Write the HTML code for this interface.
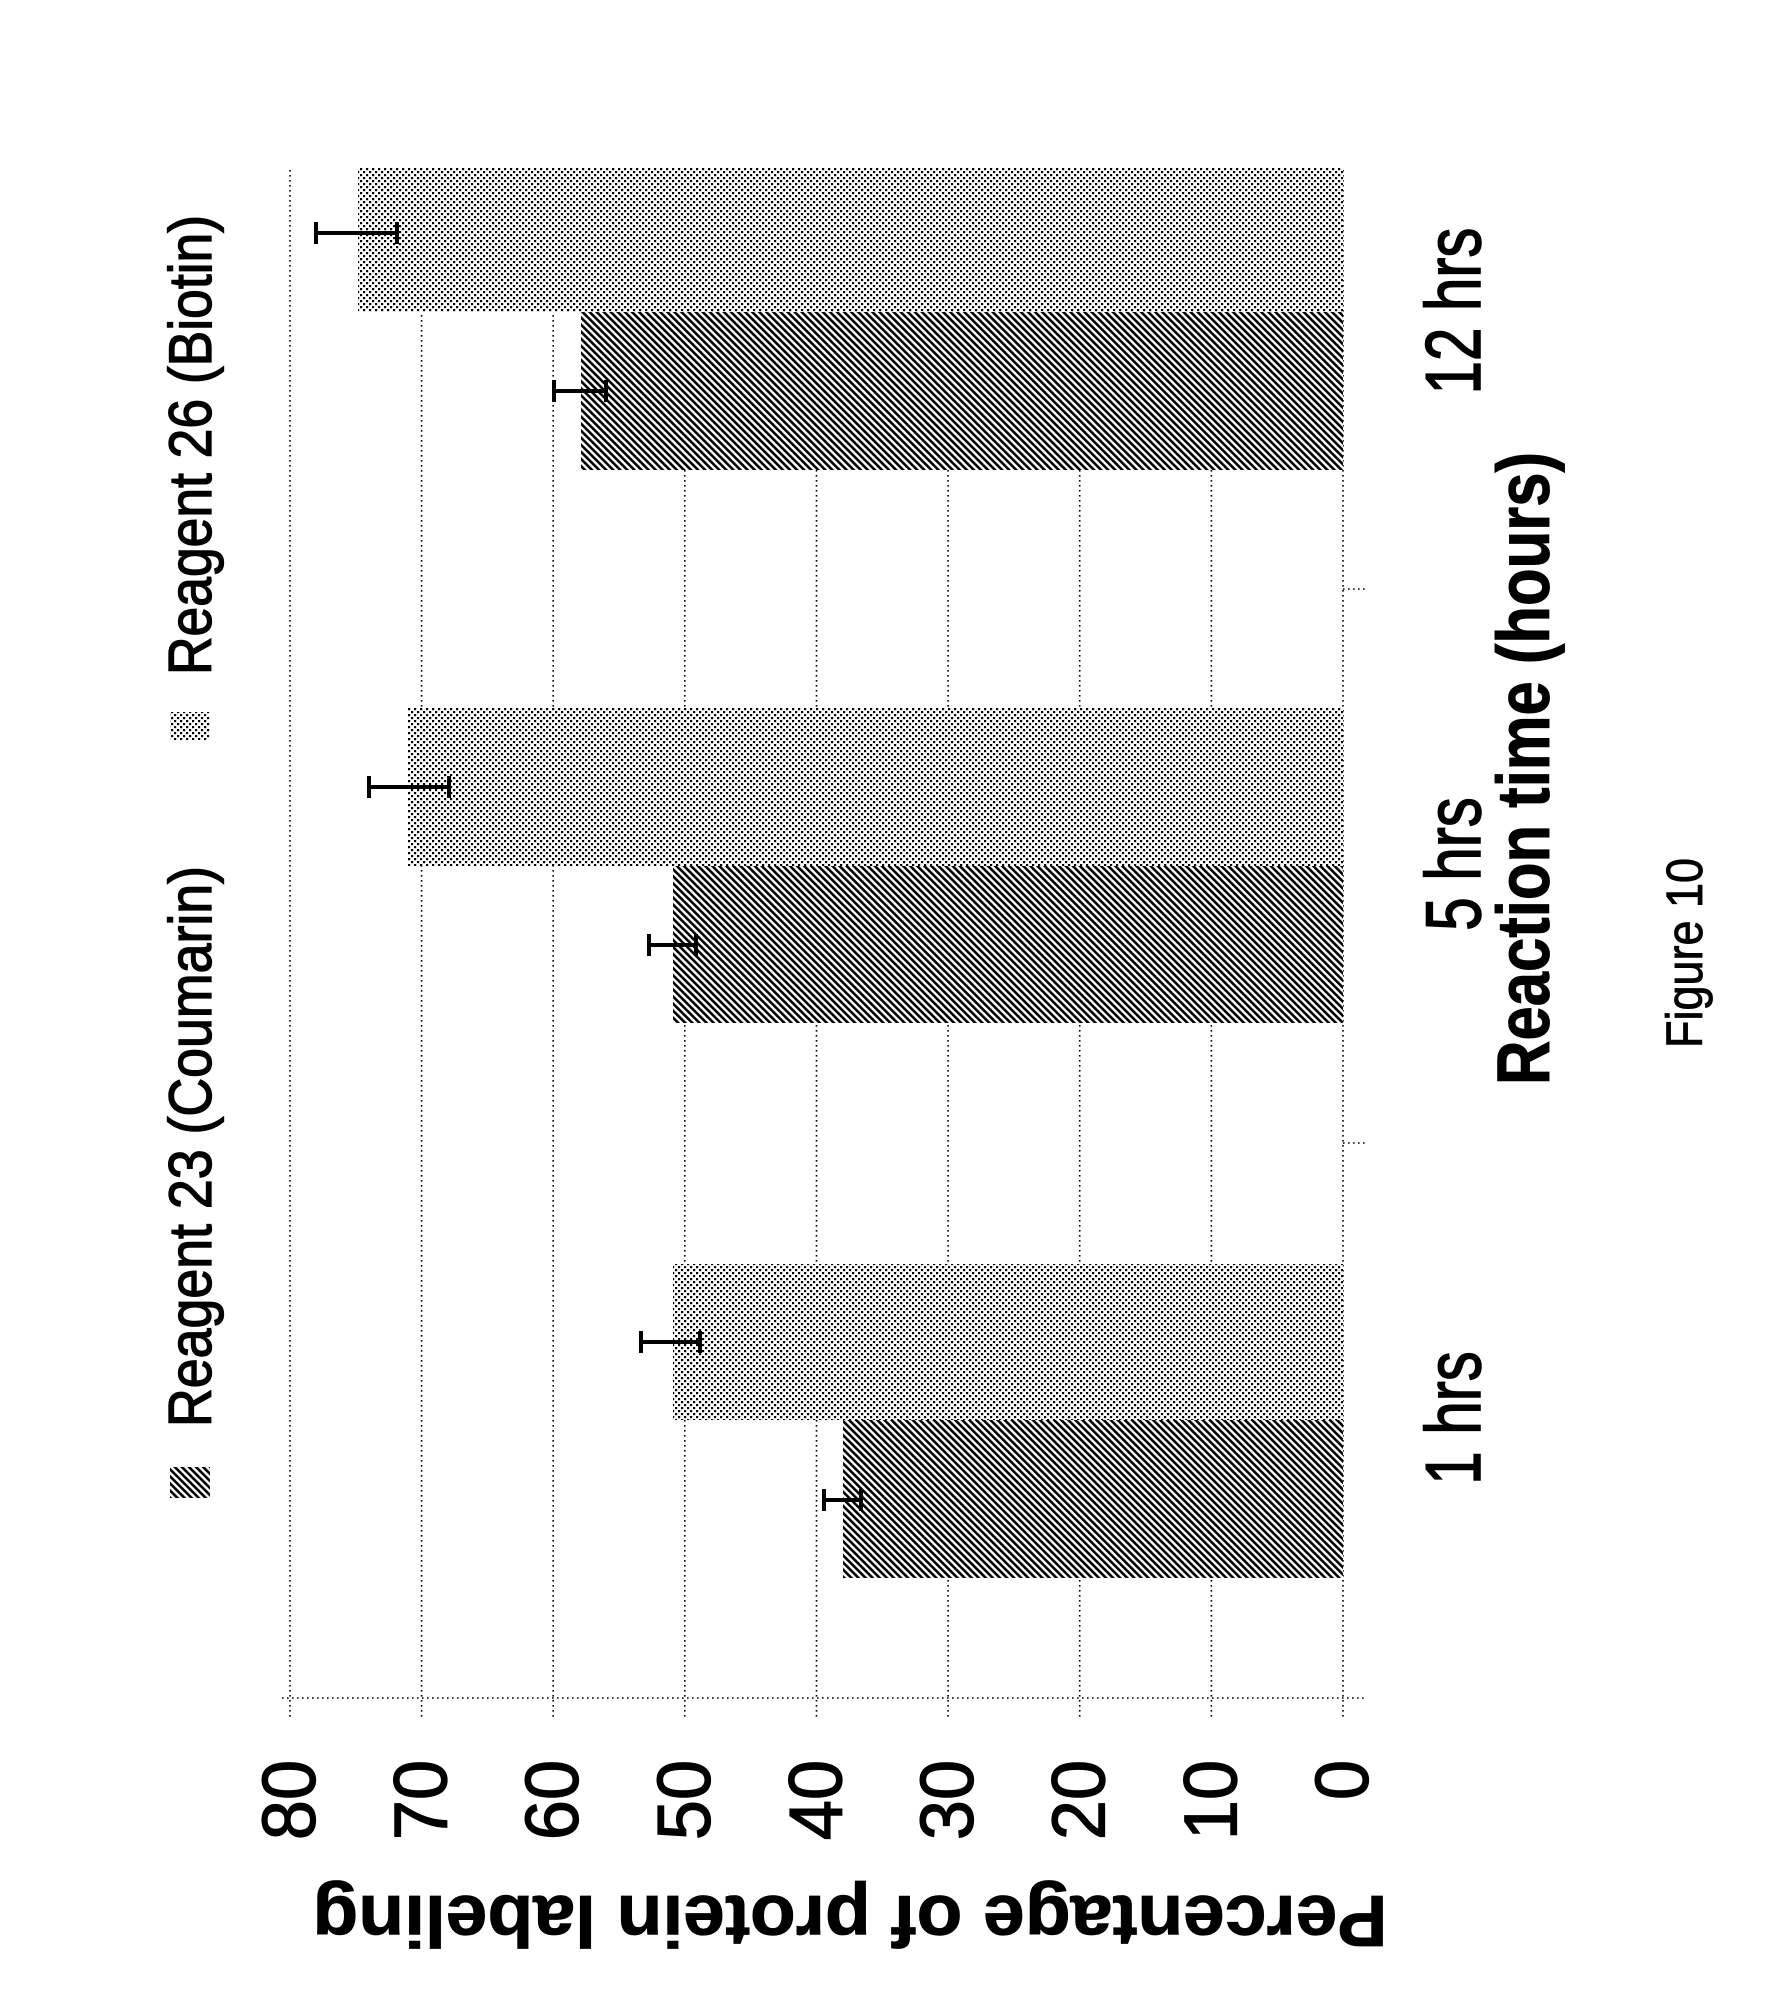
<!DOCTYPE html>
<html>
<head>
<meta charset="utf-8">
<style>
html,body{margin:0;padding:0;background:#fff;}
svg{display:block;}
text{font-family:"Liberation Sans",Arial,sans-serif;fill:#000;stroke:#000;stroke-width:1.2;}
text.b{stroke-width:0.8;}
</style>
</head>
<body>
<svg width="1781" height="2007" viewBox="0 0 1781 2007" xmlns="http://www.w3.org/2000/svg">
<defs>
  <pattern id="stripes" patternUnits="userSpaceOnUse" width="5" height="5" patternTransform="rotate(-45)">
    <rect x="0" y="0" width="5" height="5" fill="#fff"/>
    <rect x="0" y="0" width="2.6" height="5" fill="#000"/>
  </pattern>
  <pattern id="dots" patternUnits="userSpaceOnUse" width="6" height="6">
    <rect x="0" y="0" width="6" height="6" fill="#fff"/>
    <rect x="0" y="0" width="2.2" height="2.2" fill="#000"/>
    <rect x="3" y="3" width="2.2" height="2.2" fill="#000"/>
  </pattern>
</defs>
<rect x="0" y="0" width="1781" height="2007" fill="#fff"/>

<!-- gridlines (vertical, value axis) -->
<g stroke="#000" stroke-width="1.6" stroke-dasharray="1.6 3.4" fill="none">
  <line x1="290" y1="170" x2="290" y2="1717"/>
  <line x1="421.6" y1="170" x2="421.6" y2="1717"/>
  <line x1="553.2" y1="170" x2="553.2" y2="1717"/>
  <line x1="684.8" y1="170" x2="684.8" y2="1717"/>
  <line x1="816.5" y1="170" x2="816.5" y2="1717"/>
  <line x1="948.1" y1="170" x2="948.1" y2="1717"/>
  <line x1="1079.7" y1="170" x2="1079.7" y2="1717"/>
  <line x1="1211.4" y1="170" x2="1211.4" y2="1717"/>
  <line x1="1343" y1="170" x2="1343" y2="1717"/>
  <line x1="282" y1="1698" x2="1365" y2="1698"/>
  <line x1="1343" y1="589" x2="1365" y2="589"/>
  <line x1="1343" y1="1143" x2="1365" y2="1143"/>
</g>

<!-- bars -->
<rect x="358" y="168" width="985" height="144" fill="url(#dots)"/>
<rect x="581" y="312" width="762" height="158" fill="url(#stripes)"/>
<rect x="408" y="708" width="935" height="158" fill="url(#dots)"/>
<rect x="673" y="866" width="670" height="157" fill="url(#stripes)"/>
<rect x="673" y="1264" width="670" height="156" fill="url(#dots)"/>
<rect x="843" y="1420" width="500" height="158" fill="url(#stripes)"/>

<!-- error bars -->
<g stroke="#000" stroke-width="4" fill="none">
  <line x1="316" y1="233" x2="397" y2="233"/>
  <line x1="316" y1="222" x2="316" y2="244"/>
  <line x1="397" y1="222" x2="397" y2="244"/>

  <line x1="554" y1="391" x2="606" y2="391"/>
  <line x1="554" y1="380" x2="554" y2="402"/>
  <line x1="606" y1="380" x2="606" y2="402"/>

  <line x1="369" y1="787" x2="449" y2="787"/>
  <line x1="369" y1="776" x2="369" y2="798"/>
  <line x1="449" y1="776" x2="449" y2="798"/>

  <line x1="649" y1="945" x2="696" y2="945"/>
  <line x1="649" y1="934" x2="649" y2="956"/>
  <line x1="696" y1="934" x2="696" y2="956"/>

  <line x1="641" y1="1342" x2="700" y2="1342"/>
  <line x1="641" y1="1331" x2="641" y2="1353"/>
  <line x1="700" y1="1331" x2="700" y2="1353"/>

  <line x1="824" y1="1500" x2="861" y2="1500"/>
  <line x1="824" y1="1489" x2="824" y2="1511"/>
  <line x1="861" y1="1489" x2="861" y2="1511"/>
</g>

<!-- value tick labels -->
<g font-size="72" text-anchor="end">
  <text transform="translate(315,1760) rotate(-90) scale(1,1.05)">80</text>
  <text transform="translate(446.6,1760) rotate(-90) scale(1,1.05)">70</text>
  <text transform="translate(578.2,1760) rotate(-90) scale(1,1.05)">60</text>
  <text transform="translate(709.8,1760) rotate(-90) scale(1,1.05)">50</text>
  <text transform="translate(841.5,1760) rotate(-90) scale(1,1.05)">40</text>
  <text transform="translate(973.1,1760) rotate(-90) scale(1,1.05)">30</text>
  <text transform="translate(1104.7,1760) rotate(-90) scale(1,1.05)">20</text>
  <text transform="translate(1236.4,1760) rotate(-90) scale(1,1.05)">10</text>
  <text transform="translate(1368,1760) rotate(-90) scale(1,1.05)">0</text>
</g>

<!-- value axis title (upside down) -->
<text class="b" transform="translate(850,1896) rotate(180)" font-size="72" font-weight="bold" text-anchor="middle" textLength="1075" lengthAdjust="spacingAndGlyphs">Percentage of protein labeling</text>

<!-- legend -->
<rect x="170" y="1467" width="40" height="31" fill="url(#stripes)"/>
<text transform="translate(211,1427) rotate(-90) scale(1,1.12)" font-size="53.5" textLength="561" lengthAdjust="spacingAndGlyphs">Reagent 23 (Coumarin)</text>
<rect x="170" y="712" width="40" height="28" fill="url(#dots)"/>
<text transform="translate(211,675) rotate(-90) scale(1,1.12)" font-size="53.5" textLength="460" lengthAdjust="spacingAndGlyphs">Reagent 26 (Biotin)</text>

<!-- category labels -->
<g font-size="60" text-anchor="middle">
  <text transform="translate(1480,311) rotate(-90) scale(1,1.3)">12 hrs</text>
  <text transform="translate(1480,864) rotate(-90) scale(1,1.3)">5 hrs</text>
  <text transform="translate(1480,1418) rotate(-90) scale(1,1.3)">1 hrs</text>
</g>

<!-- category axis title -->
<text class="b" transform="translate(1549,1085) rotate(-90) scale(1,1.18)" font-size="62.5" font-weight="bold" textLength="633" lengthAdjust="spacingAndGlyphs">Reaction time (hours)</text>

<!-- figure caption -->
<text class="b" transform="translate(1702,1048) rotate(-90) scale(1,1.13)" font-size="45" textLength="190" lengthAdjust="spacingAndGlyphs">Figure 10</text>
</svg>
</body>
</html>
